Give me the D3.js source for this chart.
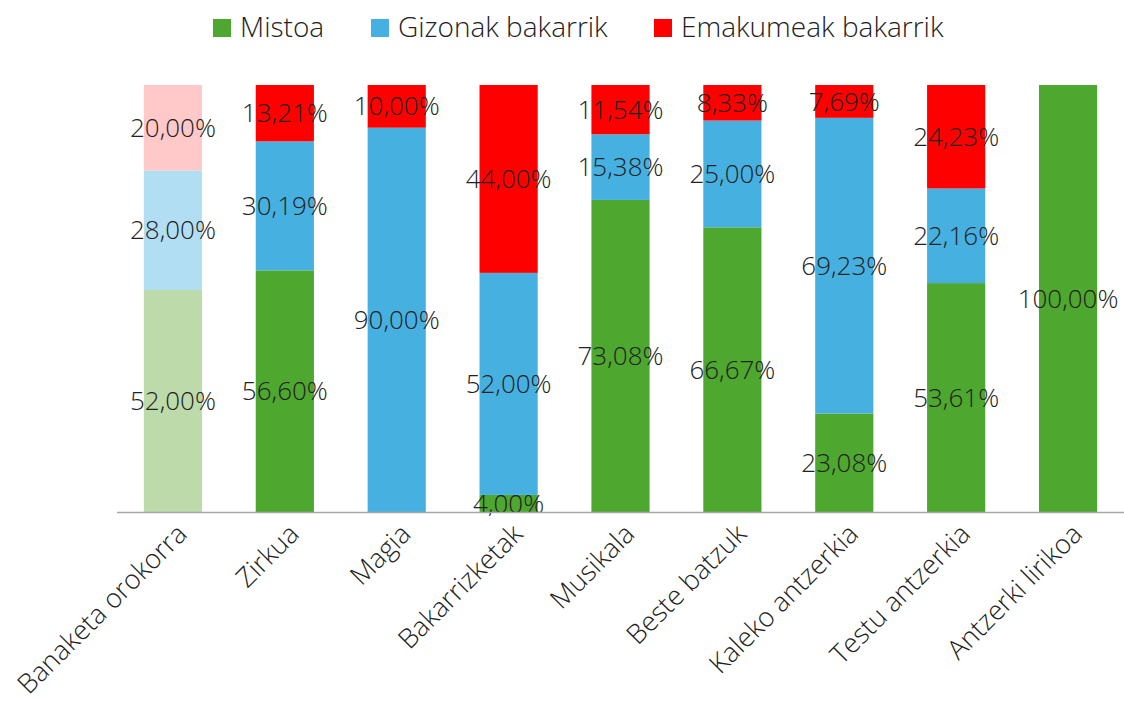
<!DOCTYPE html>
<html>
<head>
<meta charset="utf-8">
<script src="https://cdn.jsdelivr.net/npm/d3@7"></script>
<style>
  body { margin: 0; background: #fff; }
  svg text { font-family: "Open Sans", "Segoe UI", sans-serif; font-weight: 300; fill: #222; }
</style>
</head>
<body>
<div id="chart"></div>
<script>
const categories = ['Banaketa orokorra', 'Zirkua', 'Magia', 'Bakarrizketak', 'Musikala',
  'Beste batzuk', 'Kaleko antzerkia', 'Testu antzerkia', 'Antzerki lirikoa']
const seriesNames = ['Mistoa', 'Gizonak bakarrik', 'Emakumeak bakarrik']
const mistoa = [52.00, 56.60, 0, 4.00, 73.08, 66.67, 23.08, 53.61, 100.00]
const gizonak = [28.00, 30.19, 90.00, 52.00, 15.38, 25.00, 69.23, 22.16, 0]
const emakumeak = [20.00, 13.21, 10.00, 44.00, 11.54, 8.33, 7.69, 24.23, 0]
const colors = ['#4ea72e', '#46b1e1', '#ff0000']
const fadedColors = ['#bddaab', '#b1def2', '#ffc9c9']

const width = 1124
const height = 702
const margin = { top: 85, right: 0, bottom: 190, left: 117 }

const svg = d3.select('#chart').append('svg')
  .attr('width', width)
  .attr('height', height)

const rows = categories.map((c, i) => ({ cat: c, i, 0: mistoa[i], 1: gizonak[i], 2: emakumeak[i] }))
const stacked = d3.stack().keys([0, 1, 2])(rows)

const x = d3.scaleBand()
  .domain(categories)
  .range([margin.left, width - margin.right])
  .paddingInner(0.48)
  .paddingOuter(0.24)

const y = d3.scaleLinear()
  .domain([0, 100])
  .range([height - margin.bottom, margin.top])

const fmt = v => d3.format('.2f')(v).replace('.', ',') + '%'

// bars
const layers = svg.append('g').selectAll('g')
  .data(stacked)
  .join('g')

layers.selectAll('rect')
  .data(d => d.map(s => ({ s, key: d.key })))
  .join('rect')
    .attr('x', d => x(d.s.data.cat))
    .attr('width', x.bandwidth())
    .attr('y', d => y(d.s[1]))
    .attr('height', d => y(d.s[0]) - y(d.s[1]))
    .attr('fill', d => d.s.data.i === 0 ? fadedColors[d.key] : colors[d.key])

// axis line
svg.append('line')
  .attr('x1', margin.left).attr('x2', width - margin.right)
  .attr('y1', y(0) + 0.5).attr('y2', y(0) + 0.5)
  .attr('stroke', '#a6a6a6')
  .attr('stroke-width', 1.5)

// data labels
layers.selectAll('text')
  .data(d => d.filter(s => s[1] - s[0] > 0).map(s => ({ s, key: d.key })))
  .join('text')
    .attr('x', d => x(d.s.data.cat) + x.bandwidth() / 2)
    .attr('y', d => y((d.s[0] + d.s[1]) / 2))
    .attr('dy', '0.35em')
    .attr('text-anchor', 'middle')
    .style('font-size', '26px')
    .text(d => fmt(d.s[1] - d.s[0]))

// category labels
svg.append('g').selectAll('text')
  .data(categories)
  .join('text')
    .attr('transform', d => `translate(${x(d) + x.bandwidth() / 2 + 9},${y(0) + 17}) rotate(-45)`)
    .attr('text-anchor', 'end')
    .attr('dy', '0.35em')
    .style('font-size', '27px')
    .text(d => d)

// legend
const legendX = [213, 371, 654]
const legend = svg.append('g').selectAll('g')
  .data(seriesNames)
  .join('g')
    .attr('transform', (d, i) => `translate(${legendX[i]},0)`)
legend.append('rect')
  .attr('x', 0).attr('y', 19)
  .attr('width', 18).attr('height', 18)
  .attr('fill', (d, i) => colors[i])
legend.append('text')
  .attr('x', 27).attr('y', 37)
  .style('font-size', '28px')
  .text(d => d)
</script>
</body>
</html>
